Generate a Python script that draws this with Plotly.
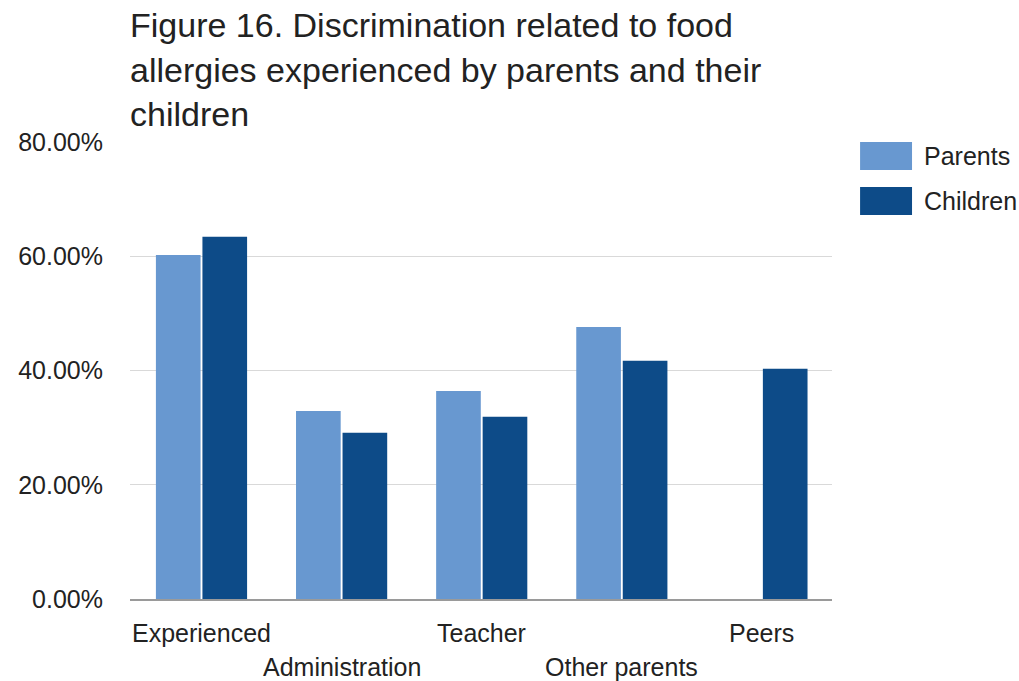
import plotly.graph_objects as go

categories = ["Experienced", "Administration", "Teacher", "Other parents", "Peers"]
parents = [0.602, 0.329, 0.364, 0.476, None]
children = [0.634, 0.291, 0.319, 0.417, 0.403]
series_names = ["Parents", "Children"]
y_ticks = [0, 0.2, 0.4, 0.6, 0.8]

colors = ["#6898d0", "#0d4b88"]
font_family = "Liberation Sans, Arial, sans-serif"
text_color = "#222222"

fig = go.Figure()
for name, vals, col in zip(series_names, [parents, children], colors):
    fig.add_trace(go.Bar(x=categories, y=vals, name=name, marker_color=col,
                         marker_line_width=0, showlegend=False))

# staggered category labels under the axis
annotations = []
for i, cat in enumerate(categories):
    annotations.append(dict(
        x=cat, xref="x", y=0, yref="y", text=cat, showarrow=False,
        xanchor="center", yanchor="middle", yshift=-34 if i % 2 == 0 else -68,
        font=dict(size=25, color=text_color, family=font_family)))

# legend drawn as swatches with labels
shapes = []
legend_rows = [(1.0, 0.9387), (0.9015, 0.840)]
for name, col, (y1, y0) in zip(series_names, colors, legend_rows):
    shapes.append(dict(type="rect", xref="paper", yref="paper",
                       x0=1.04, x1=1.114, y0=y0, y1=y1,
                       fillcolor=col, line_width=0))
    annotations.append(dict(
        x=1.128, xref="paper", y=(y0 + y1) / 2, yref="paper", text=name,
        showarrow=False, xanchor="left", yanchor="middle",
        font=dict(size=25, color=text_color, family=font_family)))

fig.update_layout(
    width=1019, height=681,
    margin=dict(l=130, r=187, t=142, b=82),
    paper_bgcolor="white", plot_bgcolor="white",
    title=dict(
        text="Figure 16. Discrimination related to food<br>"
             "allergies experienced by parents and their<br>children",
        x=130 / 1019, xanchor="left", xref="container",
        y=0.945, yanchor="top", yref="container",
        font=dict(size=34, color=text_color, family=font_family)),
    barmode="group", bargap=0.336, bargroupgap=0.04,
    font=dict(family=font_family, color=text_color),
    shapes=shapes, annotations=annotations,
    showlegend=False,
)
fig.update_xaxes(showticklabels=False, showline=True, linecolor="#9a9a9a",
                 linewidth=1.5, showgrid=False, ticks="")
fig.update_yaxes(range=[0, 0.8], tickvals=y_ticks, tickformat=".2%",
                 showgrid=True, gridcolor="#d9d9d9", gridwidth=1,
                 zeroline=False, showline=False, ticks="",
                 ticklabelstandoff=26,
                 tickfont=dict(size=25, color=text_color, family=font_family))

fig.write_html("out.html")
